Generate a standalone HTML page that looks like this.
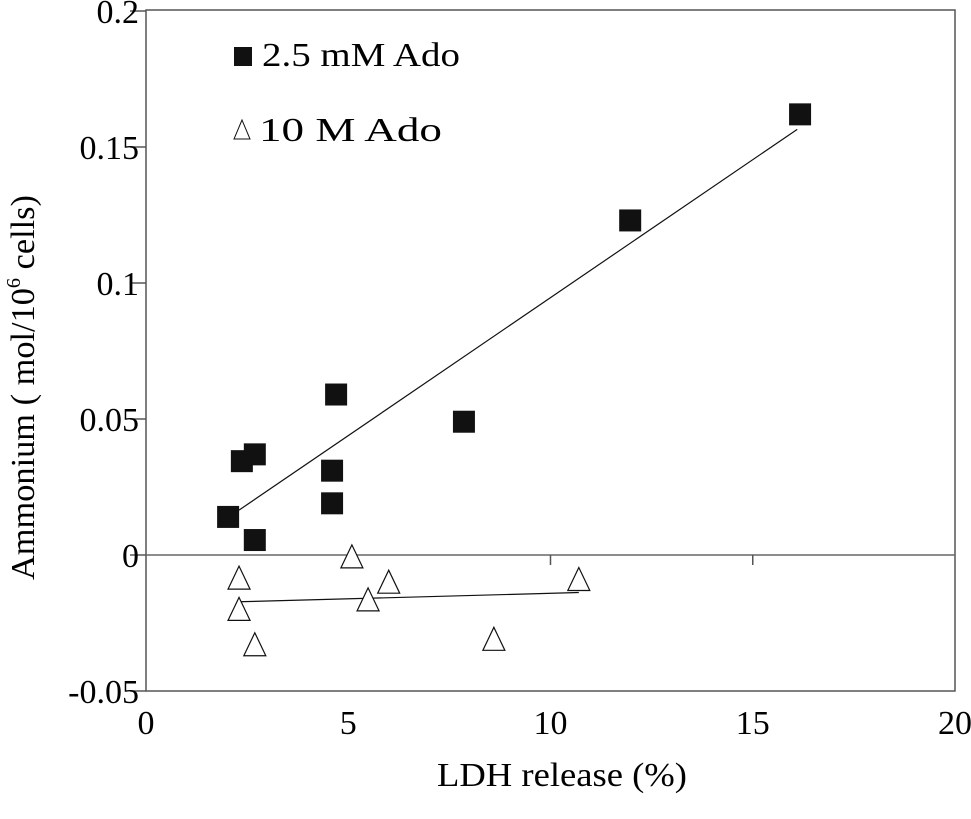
<!DOCTYPE html>
<html><head><meta charset="utf-8"><style>
html,body{margin:0;padding:0;background:#fff;}
svg{display:block;font-family:"Liberation Serif",serif;}
</style></head><body>
<svg id="chart" width="971" height="819" viewBox="0 0 971 819" xmlns="http://www.w3.org/2000/svg">
<rect x="146" y="10" width="809" height="681" fill="none" stroke="#555" stroke-width="1.5"/>
<g id="axes"></g>
<g id="marks"></g>
<text x="437" y="786" font-size="34" textLength="250" lengthAdjust="spacingAndGlyphs">LDH release (%)</text>
<text transform="translate(34,580) rotate(-90)" font-size="34" textLength="385" lengthAdjust="spacingAndGlyphs">Ammonium (   mol/10<tspan font-size="20" dy="-14">6</tspan><tspan dy="14"> cells)</tspan></text>
<g>
<rect x="234" y="47" width="18" height="19" fill="#111"/>
<text x="262" y="66" font-size="34" textLength="198" lengthAdjust="spacingAndGlyphs">2.5 mM Ado</text>
<polygon points="242,120 234,139 250,139" fill="#fff" stroke="#111" stroke-width="1"/>
<text x="259" y="141" font-size="34" textLength="183" lengthAdjust="spacingAndGlyphs">10    M Ado</text>
</g>
</svg>
<script>
const xTicks=[0,5,10,15,20];
const yTicks=[-0.05,0,0.05,0.1,0.15,0.2];
const yTickLabels=["-0.05","0","0.05","0.1","0.15","0.2"];
const sqX=[2.03,2.37,2.69,2.69,4.6,4.6,4.7,7.86,11.97,16.17];
const sqY=[0.014,0.0345,0.037,0.0055,0.031,0.019,0.059,0.049,0.123,0.162];
const triX=[2.3,2.3,2.69,5.09,5.49,6.0,8.6,10.7];
const triY=[-0.0085,-0.020,-0.033,-0.0007,-0.0165,-0.010,-0.031,-0.009];
const sqFitX=[2.3,16.1];
const sqFitY=[0.0165,0.1565];
const triFitX=[2.3,10.7];
const triFitY=[-0.0172,-0.0138];
const NS="http://www.w3.org/2000/svg";
const X=v=>146+v*40.45;
const Y=v=>555-v*2720;
const axes=document.getElementById('axes'),marks=document.getElementById('marks');
function mk(tag,attrs,parent){const e=document.createElementNS(NS,tag);for(const k in attrs)e.setAttribute(k,attrs[k]);parent.appendChild(e);return e;}
const zl=mk('line',{x1:146,x2:955,y1:Y(0),y2:Y(0),stroke:'#666','stroke-width':1.5},axes);


yTicks.forEach((t,i)=>{
  const l=mk('line',{x1:130,x2:146,y1:Y(t),y2:Y(t),stroke:'#555','stroke-width':1.5},axes);
  
  
  const tx=mk('text',{x:139,y:Y(t)+12,'font-size':34,'text-anchor':'end'},axes);
  tx.textContent=yTickLabels[i];
  
  
});
xTicks.forEach(t=>{
  if(t>0&&t<20){
    const l=mk('line',{x1:X(t),x2:X(t),y1:Y(0),y2:Y(0)+10,stroke:'#555','stroke-width':1.5},axes);
    
    
  }
  const tx=mk('text',{x:X(t),y:734,'font-size':34,'text-anchor':'middle'},axes);
  tx.textContent=String(t);
  
  
});
const f1=mk('line',{x1:X(sqFitX[0]),y1:Y(sqFitY[0]),x2:X(sqFitX[1]),y2:Y(sqFitY[1]),stroke:'#111','stroke-width':1.2},marks);


const f2=mk('line',{x1:X(triFitX[0]),y1:Y(triFitY[0]),x2:X(triFitX[1]),y2:Y(triFitY[1]),stroke:'#111','stroke-width':1.2},marks);


sqX.forEach((x,i)=>{
  const r=mk('rect',{x:X(x)-11,y:Y(sqY[i])-11,width:22,height:22,fill:'#111'},marks);
  
  
});
triX.forEach((x,i)=>{
  const cx=X(x),cy=Y(triY[i]);
  const p=mk('polygon',{points:`${cx},${cy-12} ${cx-11},${cy+11} ${cx+11},${cy+11}`,fill:'#fff',stroke:'#111','stroke-width':1.2},marks);
  
  
});
</script>
</body></html>
